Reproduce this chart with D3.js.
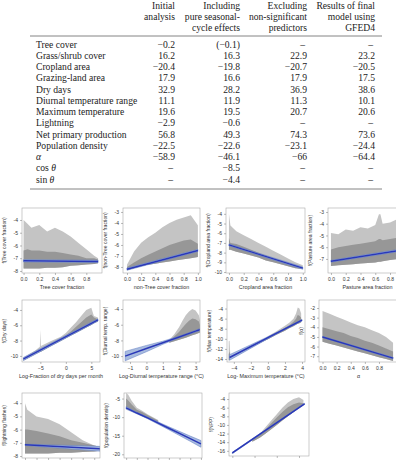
<!DOCTYPE html>
<html>
<head>
<meta charset="utf-8">
<script src="https://d3js.org/d3.v7.min.js"></script>
<style>
 body { margin: 0; background: #fff; }
 svg { display: block; }
</style>
</head>
<body>
<script>
// ---- table data ----
var headers = [
 ["Initial", "analysis", ""],
 ["Including", "pure seasonal-", "cycle effects"],
 ["Excluding", "non-significant", "predictors"],
 ["Results of final", "model using", "GFED4"]
];
var rowNames = ["Tree cover", "Grass/shrub cover", "Cropland area", "Grazing-land area", "Dry days",
 "Diurnal temperature range", "Maximum temperature", "Lightning", "Net primary production",
 "Population density", "α", "cos θ", "sin θ"];
var colInitial = ["−0.2", "16.2", "−20.4", "17.9", "32.9", "11.1", "19.6", "−2.9", "56.8", "−22.5", "−58.9", "–", "–"];
var colSeasonal = ["(−0.1)", "16.3", "−19.8", "16.6", "28.2", "11.9", "19.5", "−0.6", "49.3", "−22.6", "−46.1", "−8.5", "−4.4"];
var colExcluding = ["–", "22.9", "−20.7", "17.9", "36.9", "11.3", "20.7", "–", "74.3", "−23.1", "−66", "–", "–"];
var colGfed = ["–", "23.2", "−20.5", "17.5", "38.6", "10.1", "20.6", "–", "73.6", "−24.4", "−64.4", "–", "–"];

// ---- partial residual panels: cloud envelopes (sparse top, dense core, bottom) and fitted lines ----
var treeX = [0, 0.05, 0.1, 0.2, 0.3, 0.4, 0.5, 0.6, 0.7, 0.8, 0.9, 0.95];
var treeTop = [-4.0, -4.3, -4.6, -4.4, -4.9, -4.6, -4.9, -5.3, -5.8, -6.3, -6.8, -7.0];
var treeCore = [-6.4, -6.3, -6.4, -6.4, -6.5, -6.5, -6.6, -6.7, -6.8, -7.0, -7.0, -7.1];
var treeLow = [-7.8, -7.8, -7.8, -7.8, -7.75, -7.75, -7.7, -7.6, -7.55, -7.5, -7.45, -7.4];
var treeFitX = [0, 0.95], treeFit = [-7.2, -7.25], treeBand = [0.09, 0.09];

var grassX = [0, 0.1, 0.2, 0.3, 0.4, 0.5, 0.6, 0.7, 0.8, 0.9, 1.0];
var grassTop = [-7.8, -6.6, -5.8, -5.3, -4.9, -4.4, -4.0, -3.7, -3.5, -3.3, -4.2];
var grassCore = [-8.0, -7.6, -7.2, -6.9, -6.6, -6.3, -6.0, -5.8, -5.6, -5.5, -5.9];
var grassLow = [-8.3, -8.1, -7.9, -7.8, -7.7, -7.6, -7.5, -7.4, -7.3, -7.2, -7.1];
var grassFitX = [0, 1], grassFit = [-8.2, -6.5], grassBand = [0.1, 0.1];

var cropX = [0, 0.02, 0.1, 0.2, 0.3, 0.4, 0.5, 0.6, 0.7, 0.8, 0.9, 1.0];
var cropTop = [-4.0, -5.2, -5.8, -6.2, -6.6, -7.0, -7.4, -7.8, -8.2, -8.6, -9.0, -9.3];
var cropCore = [-6.5, -7.0, -7.1, -7.4, -7.7, -8.0, -8.3, -8.6, -8.9, -9.2, -9.4, -9.5];
var cropLow = [-7.7, -7.7, -7.9, -8.1, -8.3, -8.5, -8.8, -9.0, -9.2, -9.4, -9.6, -9.7];
var cropFitX = [0, 1], cropFit = [-7.2, -9.6], cropBand = [0.1, 0.12];

var pastX = [0, 0.1, 0.2, 0.3, 0.4, 0.5, 0.6, 0.65, 0.67, 0.7, 0.8, 0.9, 1.0];
var pastTop = [-4.8, -4.9, -4.5, -4.6, -4.3, -4.4, -4.1, -3.2, -3.2, -4.0, -3.9, -3.6, -3.6];
var pastCore = [-6.2, -6.0, -5.9, -5.8, -5.7, -5.6, -5.5, -5.3, -5.3, -5.4, -5.3, -5.2, -5.2];
var pastLow = [-7.6, -7.55, -7.5, -7.45, -7.4, -7.35, -7.3, -7.25, -7.25, -7.2, -7.1, -7.0, -6.9];
var pastFitX = [0, 1], pastFit = [-7.2, -6.2], pastBand = [0.08, 0.1];

var dryX = [-8.3, -6, -5.1, -5.0, -4.9, -3, -1, 0, 1, 2, 3, 4, 5, 5.5, 6.3];
var dryTop = [-10.2, -9.3, -8.8, -6.6, -8.7, -8.1, -7.5, -7.0, -6.3, -5.6, -4.8, -4.0, -3.7, -4.8, -5.0];
var dryCore = [-10.3, -9.45, -9.1, -9.1, -9.1, -8.4, -7.7, -7.3, -6.8, -6.2, -5.6, -5.0, -4.6, -5.0, -5.2];
var dryLow = [-10.6, -9.8, -9.5, -9.45, -9.45, -8.75, -8.05, -7.7, -7.35, -7.0, -6.65, -6.3, -5.95, -5.75, -5.5];
var dryFitX = [-8.3, 6.3], dryFit = [-10.4, -5.3], dryBand = [0.2, 0.15];

var dtrX = [1.4, 1.7, 2.0, 2.2, 2.4, 2.6, 2.8, 3.0, 3.2, 3.3];
var dtrTop = [-7.9, -7.2, -6.3, -5.5, -4.8, -4.3, -4.0, -4.2, -4.8, -5.8];
var dtrCore = [-8.0, -7.5, -6.9, -6.4, -5.9, -5.5, -5.2, -5.3, -5.6, -6.2];
var dtrLow = [-8.3, -8.1, -7.9, -7.8, -7.65, -7.5, -7.35, -7.2, -7.05, -6.95];
var dtrFitX = [-1.3, 0, 1, 2, 3, 3.3], dtrFit = [-10, -9.04, -8.3, -7.56, -6.82, -6.6];
var dtrBand = [0.6, 0.4, 0.2, 0.1, 0.12, 0.15];

var tmaxX = [-4.6, -4.5, -4.4, -0.5, 0, 1, 2, 2.5, 3, 3.3, 3.5, 3.7, 3.9];
var tmaxTop = [-10.5, -10.4, -13.6, -10.2, -9.5, -8.5, -7.4, -6.8, -6.0, -5.0, -3.8, -4.0, -5.0];
var tmaxCore = [-13.0, -12.5, -13.6, -10.2, -9.7, -8.8, -7.8, -7.3, -6.6, -6.0, -5.3, -5.4, -5.8];
var tmaxLow = [-14.3, -14.2, -13.9, -10.5, -10.1, -9.2, -8.4, -7.9, -7.5, -7.2, -7.0, -6.9, -6.7];
var tmaxFitX = [-4.5, -2, 0, 2, 4], tmaxFit = [-13.7, -11.52, -9.78, -8.04, -6.3];
var tmaxBand = [0.55, 0.35, 0.2, 0.12, 0.15];

var alphaX = [0, 0.1, 0.2, 0.3, 0.4, 0.5, 0.6, 0.7, 0.8, 0.9, 1.0];
var alphaTop = [-2.3, -2.6, -2.9, -3.2, -3.5, -3.8, -4.0, -4.3, -4.6, -5.0, -5.6];
var alphaCore = [-4.0, -4.2, -4.4, -4.6, -4.9, -5.1, -5.4, -5.6, -5.9, -6.2, -6.5];
var alphaLow = [-5.5, -5.7, -5.9, -6.1, -6.3, -6.5, -6.7, -6.9, -7.1, -7.3, -7.5];
var alphaFitX = [0, 1], alphaFit = [-5.0, -7.2], alphaBand = [0.06, 0.08];

var lightX = [0, 0.2, 1, 2, 3, 4, 5, 6, 6.5];
var lightTop = [-4.0, -4.5, -5.0, -5.2, -5.6, -6.2, -6.8, -7.2, -7.3];
var lightCore = [-6.0, -6.0, -6.1, -6.3, -6.5, -6.8, -7.0, -7.2, -7.3];
var lightLow = [-7.8, -7.8, -7.8, -7.8, -7.75, -7.75, -7.7, -7.65, -7.6];
var lightFitX = [0, 6.5], lightFit = [-7.15, -7.45], lightBand = [0.05, 0.18];

var popX = [0, 0.2, 0.5, 1, 1.5, 2, 3];
var popTop = [-3.5, -4.0, -5.5, -7.5, -8.3, -9.2, -10.8];
var popCore = [-5.0, -5.5, -6.5, -8.0, -8.6, -9.4, -11.0];
var popLow = [-7.5, -7.8, -8.2, -9.0, -9.5, -10.2, -11.4];
var popFitX = [0, 1, 2, 4, 6, 7], popFit = [-7.5, -8.9, -10.2, -13.0, -15.8, -17.2];
var popBand = [0.35, 0.2, 0.2, 0.4, 0.7, 0.9];

var nppX = [-0.2, 0.5, 1, 1.5, 2, 2.5, 3, 3.5, 4, 4.4];
var nppTop = [-13.4, -12.0, -10.5, -9.0, -7.5, -6.0, -4.8, -4.0, -3.6, -4.2];
var nppCore = [-13.5, -12.3, -11.0, -9.6, -8.3, -7.0, -5.9, -5.2, -4.8, -5.0];
var nppLow = [-13.9, -12.9, -12.0, -11.0, -10.0, -9.0, -8.0, -7.0, -6.0, -5.3];
var nppFitX = [-2, 4.5], nppFit = [-16.5, -5.1], nppBand = [0.15, 0.12];

var panels = [
 {x0: 22, y0: 208, w: 80, h: 65, xd: [-0.02, 1.0], yd: [-8.16, -3.06], xt: [0, 0.2, 0.4, 0.6, 0.8], yt: [-8, -7, -6, -5, -4], xf: ".1f",
  cx: treeX, top: treeTop, core: treeCore, low: treeLow, fx: treeFitX, fy: treeFit, fb: treeBand,
  yl: "f(Tree cover fraction)", xl: "Tree cover fraction"},
 {x0: 123, y0: 208, w: 77, h: 65, xd: [-0.056, 1.03], yd: [-8.55, -2.64], xt: [0, 0.2, 0.4, 0.6, 0.8, 1.0], yt: [-8, -7, -6, -5, -4, -3], xf: ".1f",
  cx: grassX, top: grassTop, core: grassCore, low: grassLow, fx: grassFitX, fy: grassFit, fb: grassBand,
  yl: "f(non-Tree cover fraction)", xl: "non-Tree cover fraction"},
 {x0: 226, y0: 208, w: 79, h: 65, xd: [-0.04, 1.03], yd: [-10.1, -3.4], xt: [0, 0.2, 0.4, 0.6, 0.8, 1.0], yt: [-10, -9, -8, -7, -6, -5, -4], xf: ".1f",
  cx: cropX, top: cropTop, core: cropCore, low: cropLow, fx: cropFitX, fy: cropFit, fb: cropBand,
  yl: "f(Cropland area fraction)", xl: "Cropland area fraction"},
 {x0: 328, y0: 208, w: 79, h: 65, xd: [-0.04, 1.03], yd: [-8.2, -2.66], xt: [0, 0.2, 0.4, 0.6, 0.8], yt: [-7, -6, -5, -4, -3], xf: ".1f",
  cx: pastX, top: pastTop, core: pastCore, low: pastLow, fx: pastFitX, fy: pastFit, fb: pastBand,
  yl: "f(Pasture area fraction)", xl: "Pasture area fraction"},
 {x0: 22, y0: 300, w: 78, h: 62, xd: [-8.6, 6.7], yd: [-10.8, -2.7], xt: [-5, 0, 5], yt: [-10, -8, -6, -4], xf: "d",
  cx: dryX, top: dryTop, core: dryCore, low: dryLow, fx: dryFitX, fy: dryFit, fb: dryBand,
  yl: "f(Dry days)", xl: "Log-Fraction of dry days per month"},
 {x0: 123, y0: 300, w: 77, h: 62, xd: [-1.43, 3.27], yd: [-10.75, -2.85], xt: [-1, 0, 1, 2, 3], yt: [-10, -8, -6, -4], xf: "d",
  cx: dtrX, top: dtrTop, core: dtrCore, low: dtrLow, fx: dtrFitX, fy: dtrFit, fb: dtrBand,
  yl: "f(Diurnal temp. range)", xl: "Log-Diurnal temperature range (°C)"},
 {x0: 227, y0: 300, w: 78, h: 62, xd: [-4.8, 4.35], yd: [-14.6, -2.3], xt: [-4, -2, 0, 2, 4], yt: [-14, -12, -10, -8, -6, -4], xf: "d",
  cx: tmaxX, top: tmaxTop, core: tmaxCore, low: tmaxLow, fx: tmaxFitX, fy: tmaxFit, fb: tmaxBand,
  yl: "f(Max temperature)", xl: "Log- Maximum temperature (°C)"},
 {x0: 319, y0: 300, w: 79, h: 62, xd: [-0.05, 1.07], yd: [-7.6, -1.17], xt: [0, 0.2, 0.4, 0.6, 0.8], yt: [-7, -6, -5, -4, -3, -2], xf: ".1f",
  cx: alphaX, top: alphaTop, core: alphaCore, low: alphaLow, fx: alphaFitX, fy: alphaFit, fb: alphaBand,
  yl: "f(α)", xl: "α"},
 {x0: 22, y0: 393, w: 78, h: 65, xd: [-0.26, 6.5], yd: [-8.15, -3.23], xt: [0, 1, 2, 3, 4, 5, 6], yt: [-8, -7, -6, -5, -4], xf: "d",
  cx: lightX, top: lightTop, core: lightCore, low: lightLow, fx: lightFitX, fy: lightFit, fb: lightBand,
  yl: "f(lightning flashes)", xl: "Log-Lightning flashes"},
 {x0: 124, y0: 393, w: 78, h: 65, xd: [-0.2, 7.1], yd: [-21, -3.5], xt: [0, 1, 2, 3, 4, 5, 6, 7], yt: [-20, -15, -10, -5], xf: "d",
  cx: popX, top: popTop, core: popCore, low: popLow, fx: popFitX, fy: popFit, fb: popBand,
  yl: "f(population density)", xl: "Log-Population density"},
 {x0: 229, y0: 393, w: 80, h: 63, xd: [-2.3, 4.9], yd: [-17.2, -2.6], xt: [-2, 0, 2, 4], yt: [-16, -14, -12, -10, -8, -6, -4], xf: "d",
  cx: nppX, top: nppTop, core: nppCore, low: nppLow, fx: nppFitX, fy: nppFit, fb: nppBand,
  yl: "f(NPP)", xl: "Log-NPP"}
];

var W = 396, H = 462;
var svg = d3.select("body").append("svg").attr("width", W).attr("height", H);
var defs = svg.append("defs");

// ---- table ----
var serif = "'Liberation Serif', 'DejaVu Serif', serif";
var colRight = [175, 240, 307, 375];
var cols = [colInitial, colSeasonal, colExcluding, colGfed];
var tbl = svg.append("g").attr("font-family", serif).attr("font-size", 9.6).attr("fill", "#222");

headers.forEach(function(lines, c) {
 lines.forEach(function(t, k) {
  tbl.append("text").attr("x", colRight[c]).attr("y", 8.5 + k * 11.2)
   .attr("text-anchor", "end").text(t);
 });
});
tbl.append("line").attr("x1", 30).attr("x2", 382).attr("y1", 36).attr("y2", 36)
 .attr("stroke", "#666").attr("stroke-width", 0.8);
tbl.append("line").attr("x1", 30).attr("x2", 382).attr("y1", 189).attr("y2", 189)
 .attr("stroke", "#666").attr("stroke-width", 0.8);

var rowY = d3.scaleLinear().domain([0, 12]).range([47.5, 182.5]);
rowNames.forEach(function(name, i) {
 var t = tbl.append("text").attr("x", 36).attr("y", rowY(i));
 // greek symbols set in italic, as in the source table
 name.split(/([αθ])/).forEach(function(part) {
  if (part === "") return;
  var s = t.append("tspan").text(part);
  if (part === "α" || part === "θ") s.attr("font-style", "italic");
 });
 cols.forEach(function(col, c) {
  tbl.append("text").attr("x", colRight[c] - (col[i] === "–" ? 2 : 0)).attr("y", rowY(i))
   .attr("text-anchor", "end").text(col[i]);
 });
});

// ---- residual panels ----
var sans = "'Liberation Sans', Arial, sans-serif";

panels.forEach(function(p) {
 var g = svg.append("g");
 var x = d3.scaleLinear().domain(p.xd).range([p.x0, p.x0 + p.w]);
 var y = d3.scaleLinear().domain(p.yd).range([p.y0 + p.h, p.y0]);

 var clipId = "clip" + p.x0 + "_" + p.y0;
 defs.append("clipPath").attr("id", clipId).append("rect")
  .attr("x", p.x0).attr("y", p.y0).attr("width", p.w).attr("height", p.h);
 var inner = g.append("g").attr("clip-path", "url(#" + clipId + ")");

 var idx = d3.range(p.cx.length);
 var sparse = d3.area().x(function(i) { return x(p.cx[i]); })
  .y0(function(i) { return y(p.low[i]); }).y1(function(i) { return y(p.top[i]); });
 var dense = d3.area().x(function(i) { return x(p.cx[i]); })
  .y0(function(i) { return y(p.low[i]); }).y1(function(i) { return y(p.core[i]); });
 inner.append("path").attr("d", sparse(idx)).attr("fill", "#c4c4c4");
 inner.append("path").attr("d", dense(idx)).attr("fill", "#979797");

 var fidx = d3.range(p.fx.length);
 var band = d3.area().x(function(i) { return x(p.fx[i]); })
  .y0(function(i) { return y(p.fy[i] - p.fb[i]); }).y1(function(i) { return y(p.fy[i] + p.fb[i]); });
 inner.append("path").attr("d", band(fidx)).attr("fill", "#a8bbdf").attr("stroke", "#5a78c0").attr("stroke-width", 0.5);
 var line = d3.line().x(function(i) { return x(p.fx[i]); }).y(function(i) { return y(p.fy[i]); });
 inner.append("path").attr("d", line(fidx)).attr("fill", "none").attr("stroke", "#2a38b8").attr("stroke-width", 1.5);

 // frame
 g.append("rect").attr("x", p.x0).attr("y", p.y0).attr("width", p.w).attr("height", p.h)
  .attr("fill", "none").attr("stroke", "#aaa").attr("stroke-width", 0.6);

 // labels below the page edge are not shown in the reference, only the tick marks
 var showX = p.y0 + p.h + 10 < H;
 var xAxis = d3.axisBottom(x).tickValues(p.xt).tickSize(2).tickPadding(2)
  .tickFormat(showX ? d3.format(p.xf) : function() { return ""; });
 var yAxis = d3.axisLeft(y).tickValues(p.yt).tickSize(2).tickPadding(2)
  .tickFormat(function(d) { return String(d); });
 var ga = g.append("g").attr("transform", "translate(0," + (p.y0 + p.h) + ")").call(xAxis);
 var gy = g.append("g").attr("transform", "translate(" + p.x0 + ",0)").call(yAxis);
 [ga, gy].forEach(function(a) {
  a.select(".domain").remove();
  a.selectAll("line").attr("stroke", "#777").attr("stroke-width", 0.5);
  a.selectAll("text").attr("font-family", sans).attr("font-size", 5).attr("fill", "#333");
 });

 if (showX) {
  g.append("text").attr("x", p.x0 + p.w / 2).attr("y", p.y0 + p.h + 16)
   .attr("text-anchor", "middle").attr("font-family", sans).attr("font-size", 5.4).attr("fill", "#333")
   .text(p.xl);
 }
 g.append("text").attr("transform", "translate(" + (p.x0 - 16) + "," + (p.y0 + p.h / 2) + ") rotate(-90)")
  .attr("text-anchor", "middle").attr("font-family", sans).attr("font-size", 5).attr("fill", "#333")
  .text(p.yl);
});
</script>
</body>
</html>
